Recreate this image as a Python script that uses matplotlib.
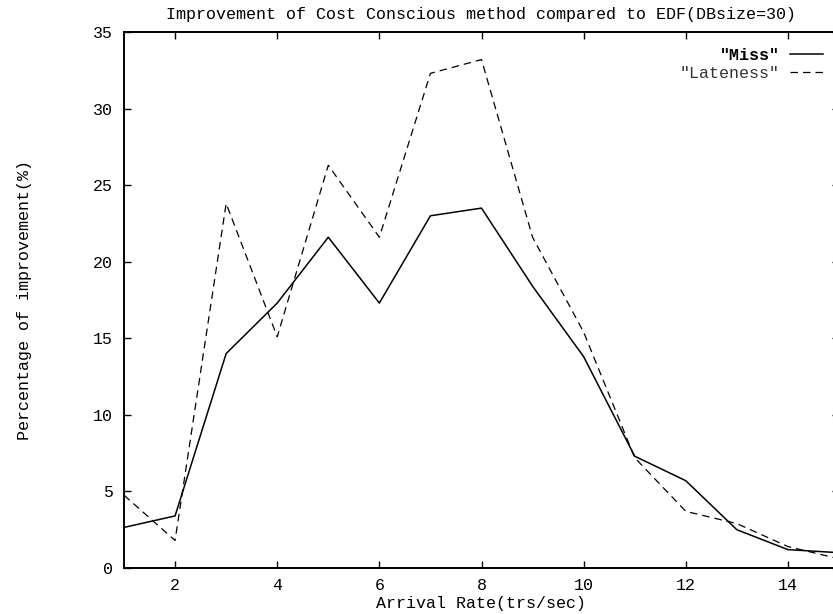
import matplotlib
matplotlib.use("Agg")
import matplotlib.pyplot as plt

arrival_rate = [1, 2, 3, 4, 5, 6, 7, 8, 9, 10, 11, 12, 13, 14, 15]
miss = [2.65, 3.4, 14.0, 17.3, 21.6, 17.3, 23.0, 23.5, 18.4, 13.8, 7.3, 5.7, 2.5, 1.2, 1.0]
lateness = [4.75, 1.8, 23.8, 15.1, 26.3, 21.6, 32.3, 33.2, 21.6, 15.4, 7.2, 3.7, 2.9, 1.4, 0.6]
x_ticks = [2, 4, 6, 8, 10, 12, 14]
y_ticks = [0, 5, 10, 15, 20, 25, 30, 35]

plt.rcParams['font.family'] = ['Liberation Mono', 'DejaVu Sans Mono']
fs = 12

W, H = 833, 614
fig = plt.figure(figsize=(W / 100, H / 100), dpi=100)
left, right, bottom, top = 124, 839, 568, 32
ax = fig.add_axes([left / W, 1 - bottom / H, (right - left) / W, (bottom - top) / H])

l1, = ax.plot(arrival_rate, miss, color='black', lw=1.1, label='"Miss"')
l2, = ax.plot(arrival_rate, lateness, color='black', lw=0.9, dashes=(6, 4), label='"Lateness"')

ax.set_xlim(1, 15)
ax.set_ylim(0, 35)
ax.set_xticks(x_ticks)
ax.set_yticks(y_ticks)
ax.tick_params(direction='in', length=5, width=1.0, top=True, right=True,
               labelsize=fs, pad=8, colors='black')
ax.tick_params(axis='x', pad=7.5)
for s in ax.spines.values():
    s.set_linewidth(1.4)

ax.set_title('Improvement of Cost Conscious method compared to EDF(DBsize=30)',
             fontsize=fs, pad=9)
ax.set_xlabel('Arrival Rate(trs/sec)', fontsize=fs, labelpad=2)
ax.set_ylabel('Percentage of improvement(%)', fontsize=fs, labelpad=44)

leg = ax.legend(loc='upper right',
                bbox_to_anchor=((823 - left) / (right - left), 1 - 16 / (bottom - top)),
                frameon=False, markerfirst=False, fontsize=fs, handlelength=2.0,
                handletextpad=0.6, labelspacing=0.15, borderpad=0, borderaxespad=0)
texts = leg.get_texts()
texts[0].set_fontweight('bold')
texts[1].set_color('#333333')

fig.savefig('out.png', dpi=100)
